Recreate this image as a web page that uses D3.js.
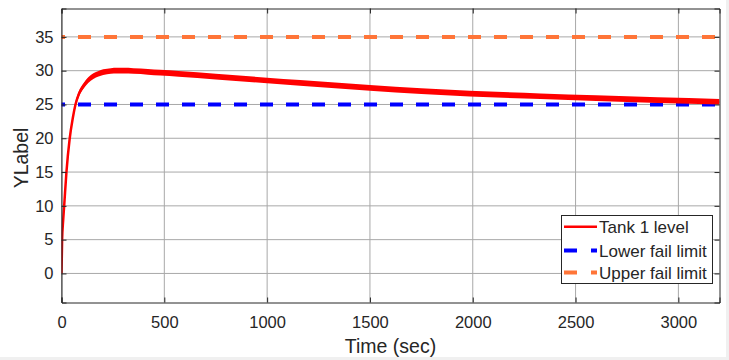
<!DOCTYPE html>
<html><head><meta charset="utf-8">
<script src="https://cdn.jsdelivr.net/npm/d3@7"></script>
<style>
html,body{margin:0;padding:0;background:#f0f0f0;}
svg{display:block;}
text{font-family:"Liberation Sans",Arial,sans-serif;fill:#262626;}
</style></head>
<body>
<svg id="c" width="729" height="360"></svg>
<script>
// Data
const timeSec = [0, 3, 8, 13, 24, 40, 55, 68, 85, 106, 130, 155, 180, 203, 240, 270, 300, 350, 420, 480, 570, 750, 1000, 1160, 1500, 1750, 1985, 2330, 2600, 2900, 3200];
const tankLevel = [0, 5, 7.8, 10, 15, 20, 23, 25, 26.6, 27.7, 28.6, 29.2, 29.55, 29.78, 29.95, 30.0, 30.0, 29.95, 29.83, 29.71, 29.53, 29.12, 28.55, 28.2, 27.45, 26.98, 26.6, 26.22, 25.93, 25.65, 25.4];
const lowerLimit = 25;
const upperLimit = 35;
const xTicks = [0, 500, 1000, 1500, 2000, 2500, 3000];
const yTicks = [0, 5, 10, 15, 20, 25, 30, 35];
const legendLabels = ["Tank 1 level", "Lower fail limit", "Upper fail limit"];

const svg = d3.select("#c");
svg.append("rect").attr("x",0).attr("y",0).attr("width",726).attr("height",357).attr("fill","#fff");

const L = 61.5, R = 719.5, T = 8.5, B = 302.5;
const x = d3.scaleLinear().domain([0, 3200]).range([L, R]);
const y = d3.scaleLinear().domain([-4.3, 39.2]).range([B, T]);

// grid
const g = svg.append("g");
g.selectAll(".gx").data(xTicks).enter().append("line")
  .attr("x1", d => x(d)).attr("x2", d => x(d)).attr("y1", T).attr("y2", B)
  .attr("stroke", "#a8a8a8").attr("stroke-width", 1);
g.selectAll(".gy").data(yTicks).enter().append("line")
  .attr("y1", d => y(d)).attr("y2", d => y(d)).attr("x1", L).attr("x2", R)
  .attr("stroke", "#a8a8a8").attr("stroke-width", 1);

// limit lines
function hline(v, col) {
  svg.append("line").attr("x1", L).attr("x2", R).attr("y1", y(v)).attr("y2", y(v))
    .attr("stroke", col).attr("stroke-width", 4)
    .attr("stroke-dasharray", "13,13").attr("stroke-dashoffset", 9.5);
}
hline(upperLimit, "#ff7538");
hline(lowerLimit, "#0000ff");

// tank curve
const pts = timeSec.map((t, i) => [t, tankLevel[i]]);
const area = d3.area().x(d => x(d[0])).y0(d => y(d[1] - 0.42)).y1(d => y(d[1] + 0.42)).curve(d3.curveMonotoneX);
const line = d3.line().x(d => x(d[0])).y(d => y(d[1])).curve(d3.curveMonotoneX);
svg.append("clipPath").attr("id","cp").append("rect").attr("x",L).attr("y",T).attr("width",R-L).attr("height",B-T);
const cg = svg.append("g").attr("clip-path","url(#cp)");
cg.append("path").datum(pts).attr("d", area).attr("fill", "#ff0000");
cg.append("path").datum(pts).attr("d", line).attr("fill", "none").attr("stroke", "#ff0000").attr("stroke-width", 2.5);

// axes
const ax = svg.append("g").attr("transform", `translate(0,${B})`)
  .call(d3.axisBottom(x).tickValues(xTicks).tickSize(-5).tickPadding(14).tickFormat(d3.format("d")));
const ay = svg.append("g").attr("transform", `translate(${L},0)`)
  .call(d3.axisLeft(y).tickValues(yTicks).tickSize(-5).tickPadding(8).tickFormat(d3.format("d")));
const axT = svg.append("g").attr("transform", `translate(0,${T})`)
  .call(d3.axisTop(x).tickValues(xTicks).tickSize(-5).tickFormat(""));
const ayR = svg.append("g").attr("transform", `translate(${R},0)`)
  .call(d3.axisRight(y).tickValues(yTicks).tickSize(-5).tickFormat(""));
[ax, ay, axT, ayR].forEach(a => {
  a.select(".domain").attr("stroke", "#262626").attr("stroke-width", 1);
  a.selectAll(".tick line").attr("stroke", "#262626");
  a.selectAll(".tick text").attr("font-size", "16.5px").attr("fill", "#262626")
   .attr("font-family", "Liberation Sans, Arial, sans-serif");
});

// axis labels
svg.append("text").attr("x", (L + R) / 2).attr("y", 353).attr("text-anchor", "middle")
  .attr("font-size", "19.5px").text("Time (sec)");
svg.append("text").attr("transform", "translate(28,158) rotate(-90)").attr("text-anchor", "middle")
  .attr("font-size", "19.5px").text("YLabel");

// legend
const lg = svg.append("g");
lg.append("rect").attr("x", 561.5).attr("y", 215.5).attr("width", 151).attr("height", 68)
  .attr("fill", "#fff").attr("stroke", "#262626").attr("stroke-width", 1);
const rows = [226.7, 250.5, 272.5];
const cols = ["#ff0000", "#0000ff", "#ff7538"];
rows.forEach((ry, i) => {
  const ln = lg.append("line").attr("x1", 564).attr("x2", 597).attr("y1", ry).attr("y2", ry)
    .attr("stroke", cols[i]);
  if (i === 0) ln.attr("stroke-width", 2.5);
  else ln.attr("stroke-width", 4).attr("stroke-dasharray", "13,14");
  lg.append("text").attr("x", 599).attr("y", ry).attr("dy", "0.36em")
    .attr("font-size", "17px").text(legendLabels[i]);
});
</script>
</body></html>
